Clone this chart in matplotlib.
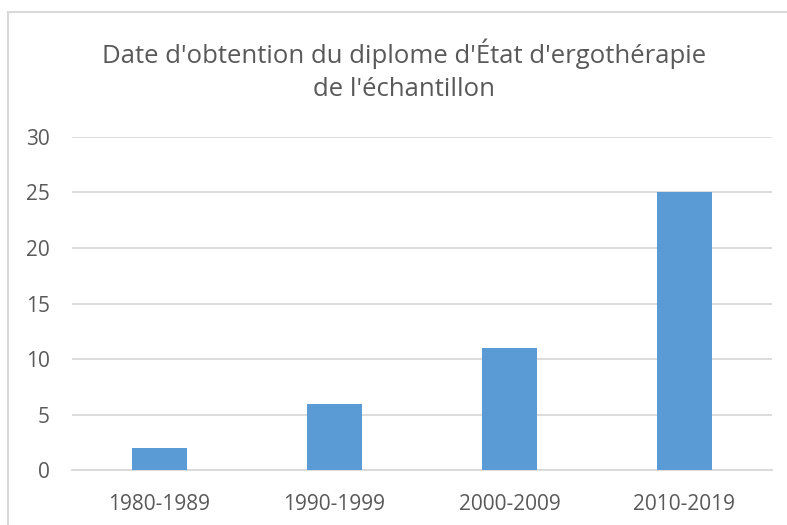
import matplotlib
matplotlib.use('Agg')
import matplotlib.pyplot as plt
from matplotlib.patches import Rectangle

categories = ['1980-1989', '1990-1999', '2000-2009', '2010-2019']
counts = [2, 6, 11, 25]
yticks = [0, 5, 10, 15, 20, 25, 30]

W, H = 787, 525
plt.rcParams['font.family'] = ['Open Sans', 'DejaVu Sans']
text_color = '#595959'
grid_color = '#d9d9d9'

fig = plt.figure(figsize=(W / 100, H / 100), dpi=100)

# chart border (cropped on the right and bottom)
fig.patches.append(Rectangle((8 / W, -0.1), 1.2, 1.1 - 12 / H, transform=fig.transFigure,
                             fill=False, edgecolor=grid_color, linewidth=1.5))

ax = fig.add_axes([72 / W, (H - 470.3) / H, 700 / W, (470.3 - 136.7) / H])
xs = range(len(categories))
ax.bar(xs, counts, width=0.31, color='#5b9bd5', zorder=3)

ax.set_xlim(-0.5, len(categories) - 0.5)
ax.set_ylim(0, 30)
ax.set_yticks(yticks)
ax.set_xticks(list(xs))
ax.set_xticklabels(categories)
ax.yaxis.grid(True, color=grid_color, linewidth=1.3)
ax.set_axisbelow(True)
for s in ['top', 'right', 'left']:
    ax.spines[s].set_visible(False)
ax.spines['bottom'].set_color(grid_color)
ax.spines['bottom'].set_linewidth(1.3)
ax.tick_params(length=0, labelsize=15, colors=text_color, pad=17)
ax.tick_params(axis='y', pad=16)

fig.text(404 / W, (H - 70) / H,
         "Date d'obtention du diplome d'État d'ergothérapie\nde l'échantillon",
         ha='center', va='center', fontsize=18.5, color=text_color, linespacing=1.4)

fig.savefig('out.png', dpi=100)
